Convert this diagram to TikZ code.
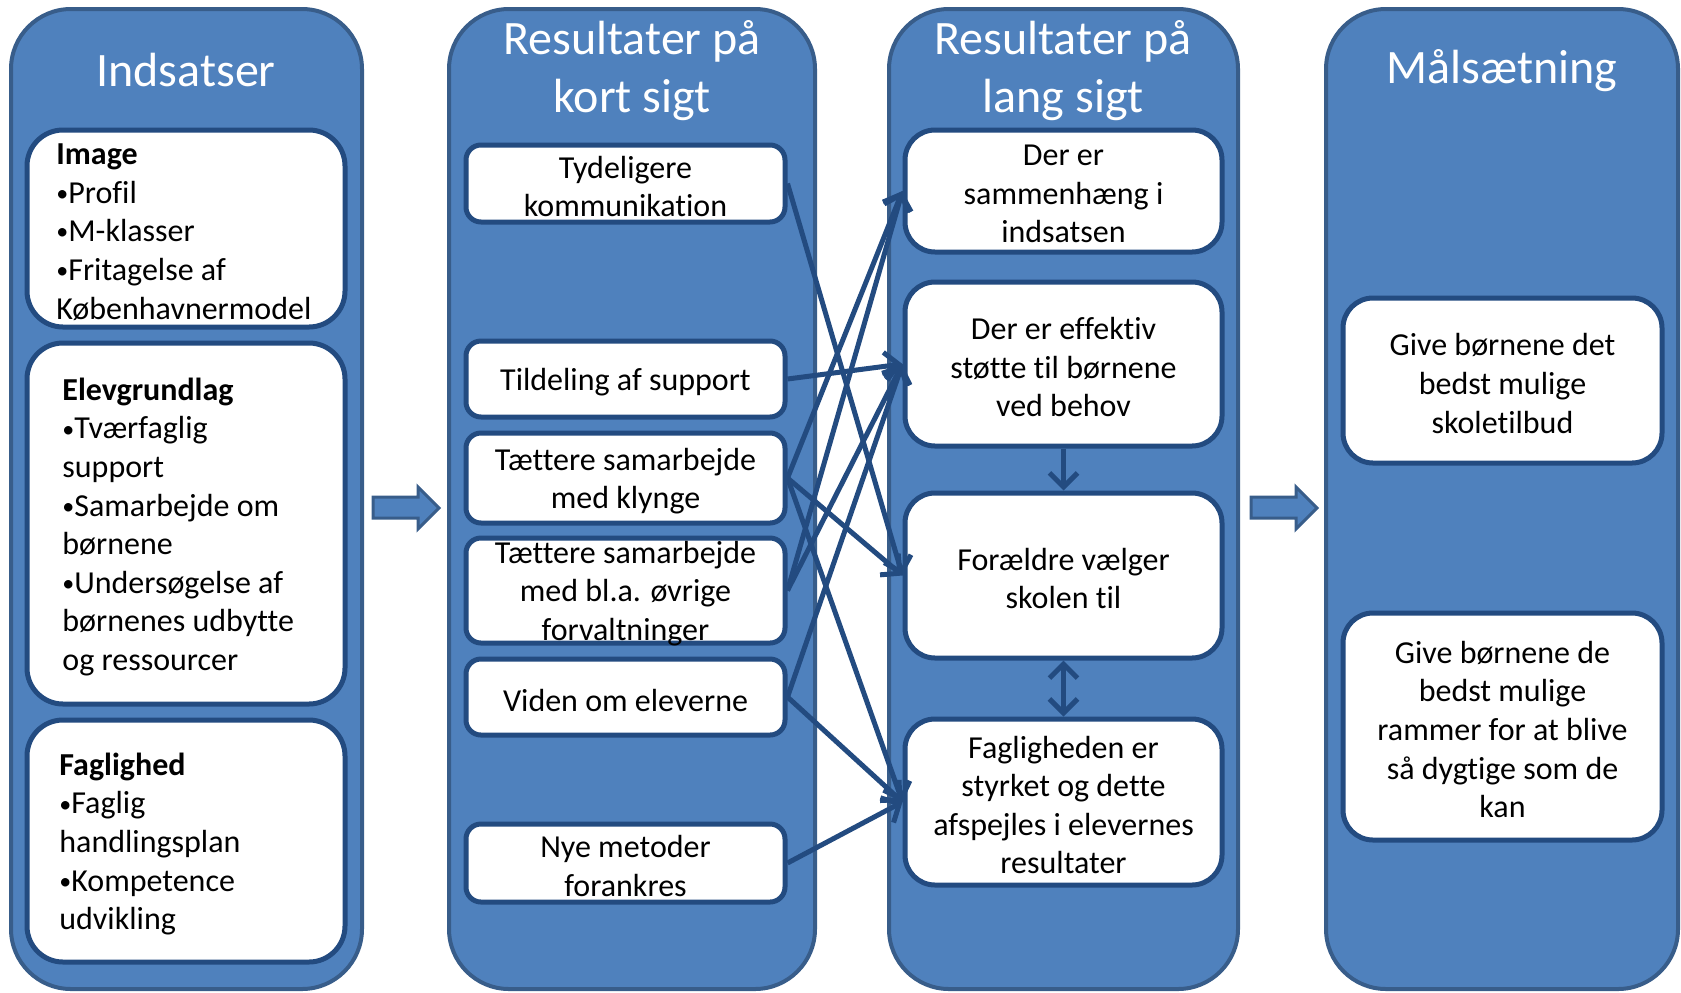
\documentclass[tikz,border=0pt]{standalone}
\usepackage{fontspec}
\setmainfont{Carlito}[Ligatures={NoCommon}]
\usetikzlibrary{arrows.meta}
\definecolor{colfill}{HTML}{4F81BD}
\definecolor{colborder}{HTML}{385D8A}
\definecolor{dblue}{HTML}{234B80}
\newcommand\bul{\raisebox{0.12ex}{\scalebox{0.75}{•}}}
\begin{document}
\begin{tikzpicture}[x=0.5pt,y=-0.5pt,
  colbox/.style={draw=colborder, fill=colfill, line width=2pt, rounded corners=30pt, inner sep=0pt, minimum height=490pt},
  bigbox/.style={draw=dblue, fill=white, line width=2.5pt, rounded corners=18pt, inner sep=0pt, minimum width=159pt},
  smallbox/.style={draw=dblue, fill=white, line width=2.5pt, rounded corners=7.5pt, inner sep=0pt, minimum width=159.5pt},
  midbox/.style={draw=dblue, fill=white, line width=2.5pt, rounded corners=15pt, inner sep=0pt, minimum width=158.5pt},
  goalbox/.style={draw=dblue, fill=white, line width=2.5pt, rounded corners=15pt, inner sep=0pt, minimum width=159.5pt},
  bodytext/.style={font=\fontsize{16}{19.3}\selectfont, align=center, text=black, inner sep=0pt, yshift=-1.5pt},
  lefttext/.style={font=\fontsize{16}{19.3}\selectfont, align=left, text=black, inner sep=0pt, anchor=west, yshift=-1.5pt},
  titletext/.style={font=\fontsize{24}{29}\selectfont, text=white, align=center, inner sep=0pt},
  link/.style={draw=dblue, line width=2.5pt, -{Straight Barb[length=7pt,width=14pt]}},
  dlink/.style={draw=dblue, line width=2.5pt, {Straight Barb[length=7pt,width=14pt]}-{Straight Barb[length=7pt,width=14pt]}},
  blockarrow/.style={draw=colborder, fill=colfill, line width=1.5pt}]
\useasboundingbox (0,0) rectangle (1681,992);

% columns
\node[colbox, minimum width=175.5pt] (c1) at (186.5,499) {};
\node[colbox, minimum width=183pt] (c2) at (632,499) {};
\node[colbox, minimum width=174.5pt] (c3) at (1063.5,499) {};
\node[colbox, minimum width=176pt] (c4) at (1502,499) {};

% titles
\node[titletext] (t1) at (186,70) {Indsatser};
\node[titletext] (t2) at (632,71) {Resultater på\\kort sigt};
\node[titletext] (t3) at (1063,71) {Resultater på\\lang sigt};
\node[titletext] (t4) at (1502,71) {Målsætning};

% column 1
\node[bigbox, minimum height=98.5pt] (img) at (186,228.5) {};
\node[lefttext] (imgt) at (56,229) {\textbf{Image}\\\bul Profil\\\bul M-klasser\\\bul Fritagelse af\\Københavnermodel};
\node[bigbox, minimum height=180.5pt] (elev) at (186,523.5) {};
\node[lefttext] (elevt) at (62,524) {\textbf{Elevgrundlag}\\\bul Tværfaglig\\support\\\bul Samarbejde om\\børnene\\\bul Undersøgelse af\\børnenes udbytte\\og ressourcer};
\node[bigbox, minimum height=121pt] (fagl) at (186,841) {};
\node[lefttext] (faglt) at (59,841) {\textbf{Faglighed}\\\bul Faglig\\handlingsplan\\\bul Kompetence\\udvikling};

% column 2
\node[smallbox, minimum height=38.5pt] (tyd) at (625.5,183.5) {};
\node[bodytext] at (tyd.center) {Tydeligere\\kommunikation};
\node[smallbox, minimum height=38pt] (tild) at (625.5,379) {};
\node[bodytext] at (tild.center) {Tildeling af support};
\node[smallbox, minimum height=45pt] (kly) at (625.5,478) {};
\node[bodytext] at (kly.center) {Tættere samarbejde\\med klynge};
\node[smallbox, minimum height=52.5pt] (ovr) at (625.5,590.5) {};
\node[bodytext] at (ovr.center) {Tættere samarbejde\\med bl.a. øvrige\\forvaltninger};
\node[smallbox, minimum height=38pt] (vid) at (625.5,697) {};
\node[bodytext] at (vid.center) {Viden om eleverne};
\node[smallbox, minimum height=39pt] (nye) at (625.5,863) {};
\node[bodytext] at (nye.center) {Nye metoder\\forankres};

% column 3
\node[midbox, minimum height=61pt] (sam) at (1063.5,191) {};
\node[bodytext] at (sam.center) {Der er\\sammenhæng i\\indsatsen};
\node[midbox, minimum height=82pt] (eff) at (1063.5,364) {};
\node[bodytext] at (eff.center) {Der er effektiv\\støtte til børnene\\ved behov};
\node[midbox, minimum height=82.5pt] (for) at (1063.5,575.5) {};
\node[bodytext] at (for.center) {Forældre vælger\\skolen til};
\node[midbox, minimum height=83pt] (fag) at (1063.5,802) {};
\node[bodytext] at (fag.center) {Fagligheden er\\styrket og dette\\afspejles i elevernes\\resultater};

% column 4
\node[goalbox, minimum height=82.5pt] (g1) at (1502.5,380.5) {};
\node[bodytext] at (g1.center) {Give børnene det\\bedst mulige\\skoletilbud};
\node[goalbox, minimum height=113.5pt] (g2) at (1502.5,726.5) {};
\node[bodytext] at (g2.center) {Give børnene de\\bedst mulige\\rammer for at blive\\så dygtige som de\\kan};

% block arrows
\draw[blockarrow] (373,497) -- (418,497) -- (418,487) -- (439,508) -- (418,529) -- (418,518) -- (373,518) -- cycle;
\draw[blockarrow] (1251,497) -- (1296,497) -- (1296,487) -- (1317,508) -- (1296,529) -- (1296,518) -- (1251,518) -- cycle;

% connectors
\draw[link] (tyd.east) -- (for.west);
\draw[link] (tild.east) -- (eff.west);
\draw[link] (kly.east) -- (sam.west);
\draw[link] (kly.east) -- (for.west);
\draw[link] (kly.east) -- (fag.west);
\draw[link] (ovr.east) -- (sam.west);
\draw[link] (ovr.east) -- (eff.west);
\draw[link] (vid.east) -- (eff.west);
\draw[link] (vid.east) -- (fag.west);
\draw[link] (nye.east) -- (fag.west);
\draw[link] (eff.south) -- (for.north);
\draw[dlink] (for.south) -- (fag.north);
\end{tikzpicture}
\end{document}
